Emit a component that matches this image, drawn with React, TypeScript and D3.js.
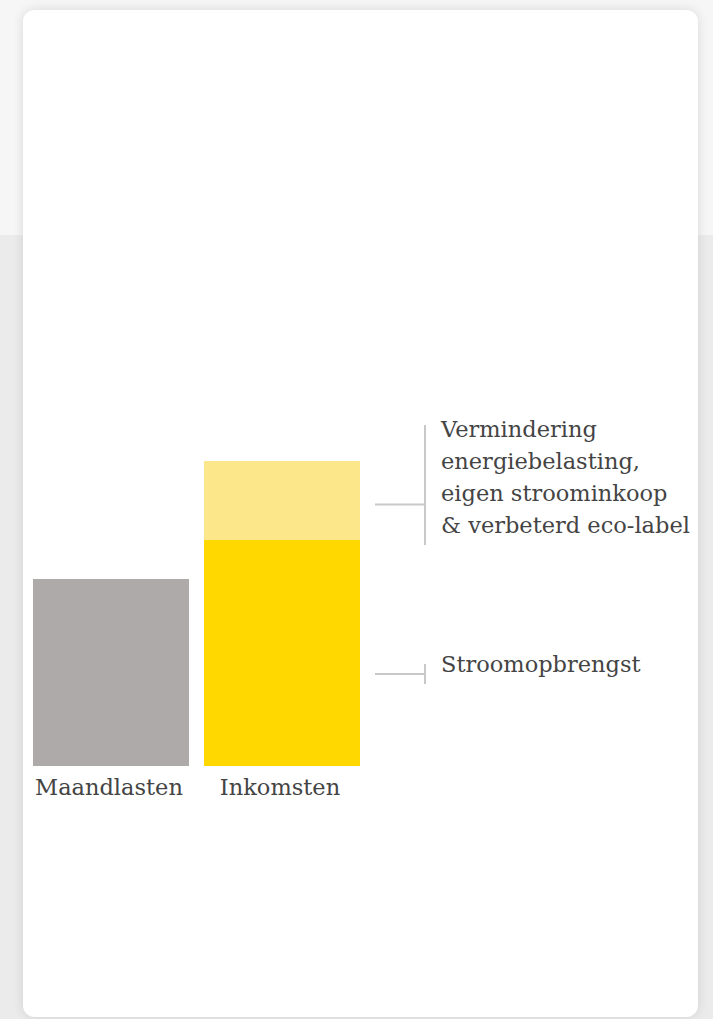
import { useEffect, useRef } from "react";
import * as d3 from "d3";

// bar categories and stacked values (arbitrary units)
const categories = ["Maandlasten", "Inkomsten"];
const maandlasten = [187];
const stroomopbrengst = [226];
const extraInkomsten = [79];
const annotationTop = ["Vermindering", "energiebelasting,", "eigen stroominkoop", "& verbeterd eco-label"];
const annotationBottom = ["Stroomopbrengst"];

const W = 713;
const H = 1019;
const FONT = "'DejaVu Serif', serif";

export default function App() {
  const ref = useRef<SVGSVGElement | null>(null);

  useEffect(() => {
    if (!ref.current) return;
    const svg = d3.select(ref.current);
    svg.selectAll("*").remove();

    // page background + card
    svg.append("rect").attr("x", 0).attr("y", 0).attr("width", W).attr("height", 235).attr("fill", "#f6f6f6");
    svg.append("rect").attr("x", 0).attr("y", 235).attr("width", W).attr("height", H - 235).attr("fill", "#ebebeb");

    const defs = svg.append("defs");
    const f = defs.append("filter").attr("id", "shadow").attr("x", "-10%").attr("y", "-10%").attr("width", "120%").attr("height", "120%");
    f.append("feGaussianBlur").attr("in", "SourceAlpha").attr("stdDeviation", 6);
    f.append("feComponentTransfer").append("feFuncA").attr("type", "linear").attr("slope", 0.12);
    const m = f.append("feMerge");
    m.append("feMergeNode");
    m.append("feMergeNode").attr("in", "SourceGraphic");

    svg.append("rect")
      .attr("x", 23).attr("y", 10).attr("width", 675).attr("height", 1007)
      .attr("rx", 12).attr("fill", "#fff").attr("filter", "url(#shadow)");

    const baseY = 766;
    const y = d3.scaleLinear().domain([0, 305]).range([baseY, baseY - 305]);
    const x = d3.scaleBand().domain(categories).range([33, 360]).paddingInner(15 / 171).paddingOuter(0);
    const bw = x.bandwidth();

    const g = svg.append("g");

    // Maandlasten
    g.append("rect")
      .attr("x", x(categories[0])!).attr("y", y(maandlasten[0]))
      .attr("width", bw).attr("height", y(0) - y(maandlasten[0]))
      .attr("fill", "#aeaaa9");

    // Inkomsten stack
    const stack = [
      { v0: 0, v1: stroomopbrengst[0], fill: "#ffd800" },
      { v0: stroomopbrengst[0], v1: stroomopbrengst[0] + extraInkomsten[0], fill: "#fce88a" },
    ];
    g.selectAll("rect.stack").data(stack).join("rect")
      .attr("class", "stack")
      .attr("x", x(categories[1])!).attr("y", d => y(d.v1))
      .attr("width", bw).attr("height", d => y(d.v0) - y(d.v1))
      .attr("fill", d => d.fill);

    // category labels
    g.selectAll("text.cat").data(categories).join("text")
      .attr("class", "cat")
      .attr("x", d => x(d)! + bw / 2 - 2).attr("y", baseY + 29)
      .attr("text-anchor", "middle")
      .attr("font-family", FONT).attr("font-size", 22.5).attr("fill", "#444")
      .text(d => d);

    // annotation connectors
    const lineColor = "#c8c8c8";
    const x0 = x(categories[1])! + bw + 15;
    const x1 = x0 + 50;
    const topMid = y(stroomopbrengst[0] + extraInkomsten[0] / 2) + 4;
    const botMid = y(stroomopbrengst[0] / 2) + 21;

    g.append("line").attr("x1", x0).attr("x2", x1).attr("y1", topMid).attr("y2", topMid)
      .attr("stroke", lineColor).attr("stroke-width", 2);
    g.append("line").attr("x1", x1).attr("x2", x1).attr("y1", 425).attr("y2", 545)
      .attr("stroke", lineColor).attr("stroke-width", 2);
    g.append("line").attr("x1", x0).attr("x2", x1).attr("y1", botMid).attr("y2", botMid)
      .attr("stroke", lineColor).attr("stroke-width", 2);
    g.append("line").attr("x1", x1).attr("x2", x1).attr("y1", botMid - 10).attr("y2", botMid + 10)
      .attr("stroke", lineColor).attr("stroke-width", 2);

    const t1 = g.append("text").attr("font-family", FONT).attr("font-size", 22.5).attr("fill", "#444");
    annotationTop.forEach((s, i) => {
      t1.append("tspan").attr("x", x1 + 16).attr("y", 437 + i * 32).text(s);
    });
    g.append("text").attr("font-family", FONT).attr("font-size", 22.5).attr("fill", "#444")
      .attr("x", x1 + 16).attr("y", 672).text(annotationBottom[0]);
  }, []);

  return (
    <svg ref={ref} width={W} height={H} style={{ position: "absolute", left: 0, top: 0 }} />
  );
}
